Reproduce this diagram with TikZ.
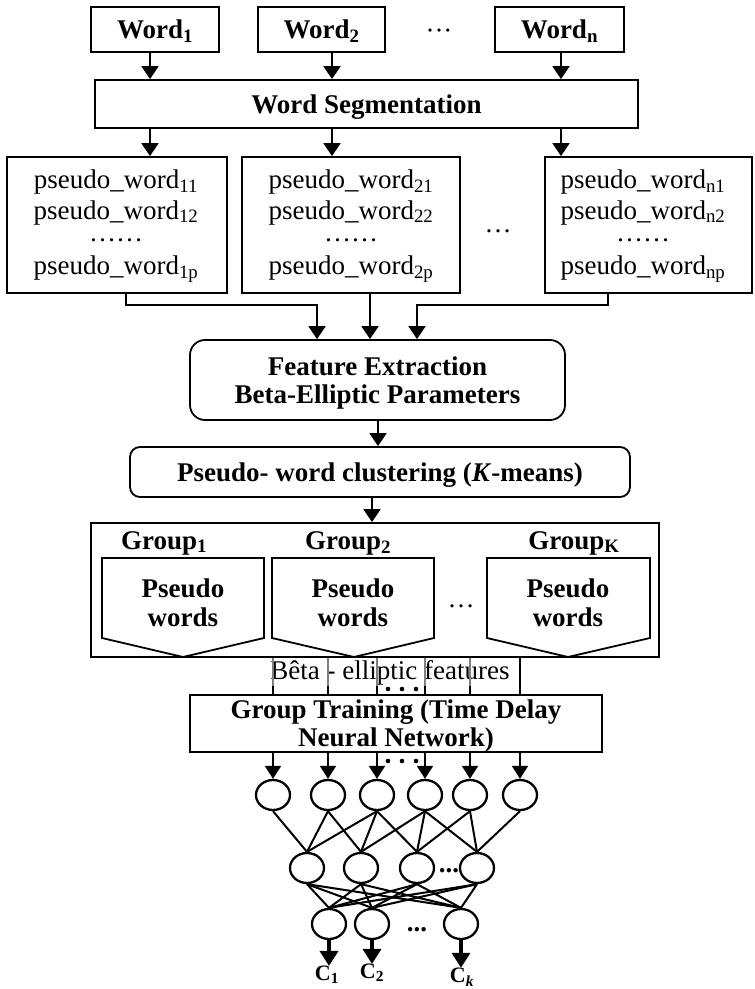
\documentclass[tikz,border=0pt]{standalone}
\usepackage{fontspec}
\setmainfont{Liberation Serif}
\usetikzlibrary{arrows.meta,shapes.geometric}
\begin{document}
\begin{tikzpicture}[x=1pt,y=-1pt,
  box/.style={draw,line width=1.8pt,inner sep=0pt,align=center,text depth=0pt},
  bt/.style={font=\fontsize{27}{28}\selectfont\bfseries,inner sep=0pt},
  rt/.style={font=\fontsize{27}{28}\selectfont,inner sep=0pt},
  arr/.style={line width=1.8pt,-{Triangle[width=17pt,length=13pt]}},
  narr/.style={line width=1.8pt,-{Triangle[width=16pt,length=13pt]}},
  oarr/.style={line width=3.5pt,-{Triangle[width=18pt,length=15pt]}},
  neuron/.style={draw,ellipse,line width=2.3pt,minimum width=34pt,minimum height=30pt,inner sep=0pt},
  link/.style={line width=2pt},
  featline/.style={line width=1.2pt,gray},
  featlineb/.style={line width=1.2pt,black},
  pent/.style={line width=1.8pt},
  clab/.style={font=\fontsize{22}{24}\selectfont\bfseries,inner sep=0pt},
]
\useasboundingbox (0,0) rectangle (755,989);

% ---- top words
\node[box,bt,minimum width=128pt,minimum height=45pt] (w1) at (155,29.5) {Word\textsubscript{1}};
\node[box,bt,minimum width=127pt,minimum height=45pt] (w2) at (321.5,29.5) {Word\textsubscript{2}};
\node[rt] (wdots) at (439,34) {···};
\node[box,bt,minimum width=129pt,minimum height=45pt] (wn) at (559.5,29.5) {Word\textsubscript{n}};

\node[box,bt,minimum width=543pt,minimum height=48pt] (seg) at (366.5,104) {Word Segmentation};

\coordinate (a1) at (150,0);
\coordinate (a2) at (332,0);
\coordinate (a3) at (561,0);
\draw[arr] (a1 |- w1.south) -- (a1 |- seg.north);
\draw[arr] (a2 |- w2.south) -- (a2 |- seg.north);
\draw[arr] (a3 |- wn.south) -- (a3 |- seg.north);

% ---- pseudo word boxes
\node[box,minimum width=220pt,minimum height=136pt] (p1) at (117,225) {};
\node[box,minimum width=218pt,minimum height=136pt] (p2) at (351,225) {};
\node[box,minimum width=207pt,minimum height=136pt] (p3) at (648.5,225) {};
\draw[arr] (a1 |- seg.south) -- (a1 |- p1.north);
\draw[arr] (a2 |- seg.south) -- (a2 |- p2.north);
\draw[arr] (a3 |- seg.south) -- (a3 |- p3.north);

\node[rt] (p1a) at (116,182) {pseudo\_word\textsubscript{11}};
\node[rt] (p1b) at (116,212.5) {pseudo\_word\textsubscript{12}};
\node[rt] (p1c) at (116,240) {……};
\node[rt] (p1d) at (116,269) {pseudo\_word\textsubscript{1p}};
\node[rt] (p2a) at (351,182) {pseudo\_word\textsubscript{21}};
\node[rt] (p2b) at (351,212.5) {pseudo\_word\textsubscript{22}};
\node[rt] (p2c) at (351,240) {……};
\node[rt] (p2d) at (351,269) {pseudo\_word\textsubscript{2p}};
\node[rt] (p3a) at (643,182) {pseudo\_word\textsubscript{n1}};
\node[rt] (p3b) at (643,212.5) {pseudo\_word\textsubscript{n2}};
\node[rt] (p3c) at (643,240) {……};
\node[rt] (p3d) at (643,269) {pseudo\_word\textsubscript{np}};
\node[rt] (pdots) at (498,231) {…};

% ---- feature extraction
\node[box,bt,rounded corners=15pt,minimum width=375pt,minimum height=80pt] (fe) at (377.5,380) {Feature Extraction\\Beta-Elliptic Parameters};

\coordinate (mid) at (0,305);
\coordinate (b1) at (126,0);
\coordinate (b2) at (370,0);
\coordinate (b3) at (608,0);
\coordinate (t1) at (317,0);
\coordinate (t3) at (417,0);
\draw[arr] (b1 |- p1.south) -- (b1 |- mid) -- (t1 |- mid) -- (t1 |- fe.north);
\draw[arr] (b2 |- p2.south) -- (b2 |- fe.north);
\draw[arr] (b3 |- p3.south) -- (b3 |- mid) -- (t3 |- mid) -- (t3 |- fe.north);

% ---- clustering
\node[box,bt,rounded corners=10pt,minimum width=500pt,minimum height=50pt] (cl) at (380,472) {Pseudo- word clustering (\textit{K}-means)};
\coordinate (xf) at (378,0);
\draw[arr] (xf |- fe.south) -- (xf |- cl.north);

% ---- groups
\node[box,minimum width=568pt,minimum height=134pt] (grp) at (375,590) {};
\coordinate (xg) at (372,0);
\draw[arr] (xg |- cl.south) -- (xg |- grp.north);

\node[bt] (g1) at (164,543) {Group\textsubscript{1}};
\node[bt] (g2) at (348,543) {Group\textsubscript{2}};
\node[bt] (gk) at (574,543) {Group\textsubscript{K}};

\draw[pent] (102,558) -- (264,558) -- (264,638) -- (183,657) -- (102,638) -- cycle;
\draw[pent] (272,558) -- (434,558) -- (434,638) -- (354,657) -- (272,638) -- cycle;
\draw[pent] (487,558) -- (650,558) -- (650,638) -- (568,657) -- (487,638) -- cycle;
\node[bt,align=center,font=\fontsize{27}{29}\selectfont\bfseries] (pw1) at (183,603) {Pseudo\\words};
\node[bt,align=center,font=\fontsize{27}{29}\selectfont\bfseries] (pw2) at (353,603) {Pseudo\\words};
\node[bt,align=center,font=\fontsize{27}{29}\selectfont\bfseries] (pw3) at (568,603) {Pseudo\\words};
\node[rt] (gdots) at (461,606) {…};

% ---- TDNN
\node[box,bt,minimum width=412pt,minimum height=57pt] (td) at (396,723.5) {Group Training (Time Delay\\Neural Network)};

% ---- neurons
\node[neuron] (i1) at (273,795) {};
\node[neuron] (i2) at (328,795) {};
\node[neuron] (i3) at (377,795) {};
\node[neuron] (i4) at (425,795) {};
\node[neuron] (i5) at (470,795) {};
\node[neuron] (i6) at (520,795) {};
\node[neuron] (h1) at (307,868) {};
\node[neuron] (h2) at (361,868) {};
\node[neuron] (h3) at (417,868) {};
\node[neuron] (h4) at (477,868) {};
\node[neuron] (o1) at (329,924) {};
\node[neuron] (o2) at (372,924) {};
\node[neuron] (o3) at (461,924) {};

% ---- feature lines and text
\node[rt] (btx) at (390,673) {Bêta - elliptic features};
\foreach \n in {i1,i2,i3,i4,i5}{
  \draw[featline] (\n |- grp.south) -- (\n |- btx.south);
  \draw[featlineb] (\n |- btx.south) -- (\n |- td.north);
}
\draw[featlineb] (i6 |- grp.south) -- (i6 |- td.north);
\fill (388,689) circle (2.3) (402,689) circle (2.3) (416,689) circle (2.3);
\fill (388,761) circle (2.3) (402,761) circle (2.3) (416,761) circle (2.3);

\foreach \n in {i1,i2,i3,i4,i5,i6}{
  \draw[narr] (\n |- td.south) -- (\n.north);
}

% ---- links input -> hidden
\draw[link] (i1.south) -- (h1.north);
\draw[link] (i2.south) -- (h1.north);
\draw[link] (i2.south) -- (h2.north);
\draw[link] (i3.south) -- (h1.north);
\draw[link] (i3.south) -- (h2.north);
\draw[link] (i3.south) -- (h3.north);
\draw[link] (i4.south) -- (h2.north);
\draw[link] (i4.south) -- (h3.north);
\draw[link] (i4.south) -- (h4.north);
\draw[link] (i5.south) -- (h3.north);
\draw[link] (i5.south) -- (h4.north);
\draw[link] (i6.south) -- (h4.north);

% ---- links hidden -> output
\foreach \h in {h1,h2,h3,h4}{
  \foreach \o in {o1,o2,o3}{
    \draw[link] (\h.south) -- (\o.north);
  }
}
\node[bt] (hdots) at (449,871) {...};
\node[bt] (odots) at (417,930) {...};

% ---- outputs
\node[clab] (c1) at (327,975) {C\textsubscript{1}};
\node[clab] (c2) at (372,973) {C\textsubscript{2}};
\node[clab] (ck) at (462,977) {C\textsubscript{\textit{k}}};
\draw[oarr] (o1.south) -- (o1.south |- c1.north);
\draw[oarr] (o2.south) -- (o2.south |- c2.north);
\draw[oarr] (o3.south) -- (o3.south |- ck.north);
\end{tikzpicture}
\end{document}
